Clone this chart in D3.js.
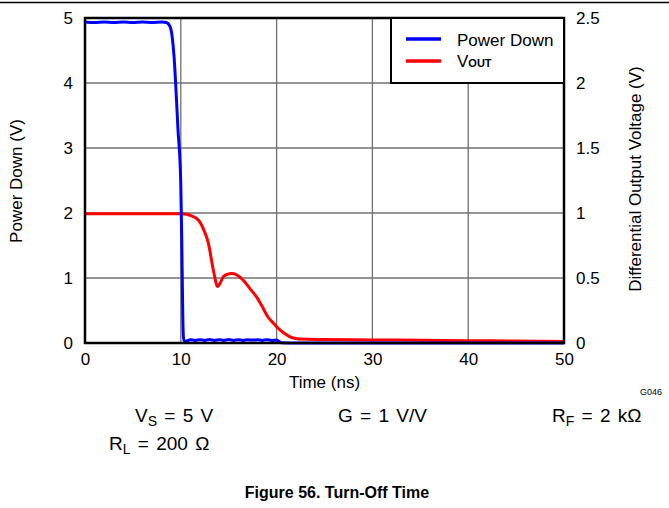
<!DOCTYPE html>
<html>
<head>
<meta charset="utf-8">
<script src="https://cdn.jsdelivr.net/npm/d3@7"></script>
<style>
  html, body { margin: 0; padding: 0; background: #fff; }
  svg { display: block; font-family: "Liberation Sans", Arial, sans-serif; }
</style>
</head>
<body>
<svg id="chart" width="669" height="508"></svg>
<script>
// ---------- data ----------
const xTicks = [0, 10, 20, 30, 40, 50];
const leftTicks = [0, 1, 2, 3, 4, 5];
const rightTicks = [0, 0.5, 1, 1.5, 2, 2.5];
const rightTickLabels = ["0", "0.5", "1", "1.5", "2", "2.5"];

// Power Down (left axis, V) vs time (ns)
const pdTime = [0, 1, 2, 3, 4, 5, 6, 7, 8, 8.5, 8.87, 9.1, 9.3, 9.46, 9.7, 9.99, 10.1, 10.18, 10.25, 10.32,
                10.6, 11, 11.5, 12, 12.5, 13, 13.5, 14, 14.5, 15, 15.5, 16, 16.5, 17, 17.5, 18, 18.5, 19, 19.5, 20, 20.2, 20.5,
                22, 25, 30, 35, 40, 45, 50];
const pdValue = [4.94, 4.93, 4.94, 4.93, 4.94, 4.93, 4.94, 4.93, 4.94, 4.93, 4.87, 4.71, 4.4, 4.0, 3.3, 2.5, 1.6, 0.7, 0.15, 0.04,
                 0.03, 0.05, 0.04, 0.05, 0.04, 0.055, 0.04, 0.05, 0.04, 0.055, 0.04, 0.05, 0.04, 0.05, 0.045, 0.05, 0.04, 0.05, 0.04, 0.045, 0.03, 0.005,
                 0.0, 0.0, 0.0, 0.0, 0.0, 0.0, 0.0];

// VOUT (right axis, V) vs time (ns)
const voTime = [0, 5, 10, 10.6, 11.2, 11.7, 12.0, 12.4, 12.87, 13.4, 13.85, 14.1, 14.44, 14.9, 15.3, 15.8, 16.5, 17.2, 17.9,
                18.5, 19.1, 19.7, 20.2, 20.8, 21.4, 22, 22.5, 25, 30, 35, 40, 45, 50];
const voValue = [0.995, 0.995, 0.995, 0.99, 0.975, 0.955, 0.93, 0.87, 0.77, 0.56, 0.435, 0.46, 0.51, 0.53, 0.535, 0.525, 0.485,
                 0.42, 0.355, 0.28, 0.2, 0.15, 0.11, 0.075, 0.048, 0.035, 0.03, 0.027, 0.024, 0.021, 0.018, 0.015, 0.012];

// ---------- layout ----------
const svg = d3.select("#chart");
const L = 85, R = 564, T = 18, B = 343;

const x = d3.scaleLinear().domain([0, 50]).range([L, R]);
const yL = d3.scaleLinear().domain([0, 5]).range([B, T]);
const yR = d3.scaleLinear().domain([0, 2.5]).range([B, T]);

// top rule
svg.append("line").attr("x1", 0).attr("x2", 669).attr("y1", 2.5).attr("y2", 2.5)
  .attr("stroke", "#000").attr("stroke-width", 1.4);

// grid
const grid = svg.append("g").attr("stroke", "#707070").attr("stroke-width", 1.3);
grid.selectAll("line.v").data(xTicks.slice(1, -1)).join("line")
  .attr("x1", d => x(d)).attr("x2", d => x(d)).attr("y1", T).attr("y2", B);
grid.selectAll("line.h").data(leftTicks.slice(1, -1)).join("line")
  .attr("x1", L).attr("x2", R).attr("y1", d => yL(d)).attr("y2", d => yL(d));

// axes (labels only, via d3 axis generators)
const fs = "17px";
const xAxis = svg.append("g").attr("transform", `translate(0,${B})`)
  .call(d3.axisBottom(x).tickValues(xTicks).tickSize(0).tickPadding(10));
const lAxis = svg.append("g").attr("transform", `translate(${L},0)`)
  .call(d3.axisLeft(yL).tickValues(leftTicks).tickSize(0).tickPadding(12).tickFormat(d3.format("d")));
const rAxis = svg.append("g").attr("transform", `translate(${R},0)`)
  .call(d3.axisRight(yR).tickValues(rightTicks).tickSize(0).tickPadding(12)
    .tickFormat((d, i) => rightTickLabels[i]));
[xAxis, lAxis, rAxis].forEach(g => {
  g.select(".domain").remove();
  g.selectAll("text").attr("font-size", fs).attr("fill", "#000")
    .attr("font-family", "Liberation Sans, Arial, sans-serif");
});

// series
const linePD = d3.line().x((d, i) => x(pdTime[i])).y(d => yL(d)).curve(d3.curveMonotoneX);
const lineVO = d3.line().x((d, i) => x(voTime[i])).y(d => yR(d)).curve(d3.curveMonotoneX);

svg.append("path").datum(voValue).attr("d", lineVO)
  .attr("fill", "none").attr("stroke", "#ff0000").attr("stroke-width", 3).attr("stroke-linejoin", "round");
svg.append("path").datum(pdValue).attr("d", linePD)
  .attr("fill", "none").attr("stroke", "#0000ff").attr("stroke-width", 3).attr("stroke-linejoin", "round");

// frame
svg.append("rect").attr("x", L).attr("y", T).attr("width", R - L).attr("height", B - T)
  .attr("fill", "none").attr("stroke", "#000").attr("stroke-width", 2.5);

// legend
const lg = svg.append("g");
lg.append("rect").attr("x", 391).attr("y", T).attr("width", R - 391).attr("height", 65)
  .attr("fill", "#fff").attr("stroke", "#000").attr("stroke-width", 2);
lg.append("line").attr("x1", 406).attr("x2", 441).attr("y1", 39).attr("y2", 39)
  .attr("stroke", "#0000ff").attr("stroke-width", 3.5);
lg.append("line").attr("x1", 406).attr("x2", 441).attr("y1", 61).attr("y2", 61)
  .attr("stroke", "#ff0000").attr("stroke-width", 3.5);
lg.append("text").attr("x", 457).attr("y", 46).attr("font-size", "17px").text("Power Down");
const vt = lg.append("text").attr("x", 457).attr("y", 67).attr("font-size", "17px");
vt.append("tspan").text("V");
vt.append("tspan").attr("font-size", "11px").attr("font-weight", "bold").text("OUT");

// axis titles
svg.append("text").attr("x", 324.5).attr("y", 388).attr("text-anchor", "middle")
  .attr("font-size", "17px").text("Time (ns)");
svg.append("text").attr("transform", "translate(22,181) rotate(-90)").attr("text-anchor", "middle")
  .attr("font-size", "17px").text("Power Down (V)");
svg.append("text").attr("transform", "translate(641,179) rotate(-90)").attr("text-anchor", "middle")
  .attr("font-size", "17px").text("Differential Output Voltage (V)");

// figure id
svg.append("text").attr("x", 662).attr("y", 395).attr("text-anchor", "end")
  .attr("font-size", "9px").text("G046");

// conditions
function cond(xp, yp, main, sub, rest) {
  const t = svg.append("text").attr("x", xp).attr("y", yp).attr("font-size", "19px")
    .attr("word-spacing", "2px");
  t.append("tspan").text(main);
  if (sub) t.append("tspan").attr("font-size", "14px").attr("dy", 4).text(sub);
  t.append("tspan").attr("dy", sub ? -4 : 0).text(rest);
}
cond(135, 422, "V", "S", " = 5 V");
cond(338, 422, "G = 1 V/V", null, "");
cond(552, 422, "R", "F", " = 2 kΩ");
cond(109, 450, "R", "L", " = 200 Ω");

// caption
svg.append("text").attr("x", 337).attr("y", 498).attr("text-anchor", "middle")
  .attr("font-size", "16px").attr("font-weight", "bold").text("Figure 56. Turn-Off Time");
</script>
</body>
</html>
